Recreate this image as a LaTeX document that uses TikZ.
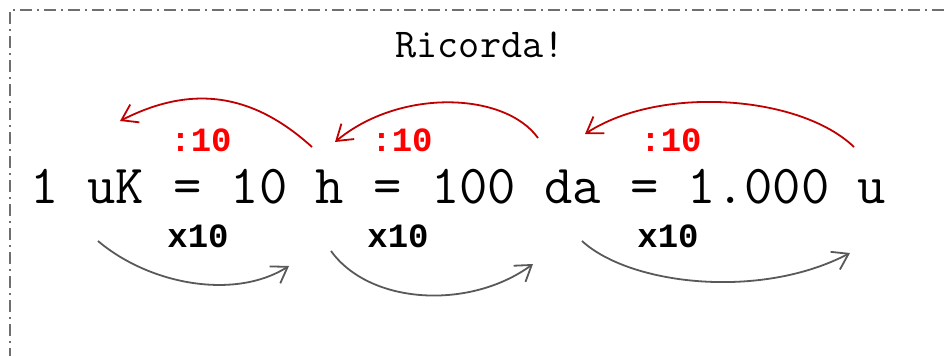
\documentclass[tikz,border=0pt]{standalone}
\usepackage{fontspec}
\setmainfont{Liberation Mono}
\usetikzlibrary{arrows.meta, positioning}
\definecolor{arrowred}{HTML}{C00000}
\definecolor{labelred}{HTML}{FF0000}
\definecolor{arrowgray}{HTML}{595959}
\definecolor{framegray}{HTML}{6E6E6E}
\tikzset{
  term/.style={inner sep=0pt, font=\fontsize{55}{57}\selectfont\ttfamily},
  divlabel/.style={inner sep=0pt, anchor=base, text=labelred, font=\fontsize{34}{36}\selectfont\bfseries},
  multlabel/.style={inner sep=0pt, anchor=base, text=black, font=\fontsize{34}{36}\selectfont\bfseries},
  divarrow/.style={draw=arrowred, line width=1.8pt, -{Straight Barb[length=15pt,width=20pt,line width=1.8pt]}},
  multarrow/.style={draw=arrowgray, line width=1.8pt, -{Straight Barb[length=15pt,width=20pt,line width=1.8pt]}},
  frame/.style={draw=framegray, line width=1.4pt, dash pattern=on 12pt off 5pt on 2pt off 5pt}
}

\begin{document}
\begin{tikzpicture}[x=1pt, y=-1pt]
  \useasboundingbox (0,0) rectangle (944,356);
  \coordinate (frameTR) at (944,10);
  \coordinate (frameTL) at (10,10);
  \coordinate (frameBL) at (10,356);
  \draw[frame] (frameTR) -- (frameTL) -- (frameBL);

  \node[inner sep=0pt, anchor=base, font=\fontsize{41}{43}\selectfont\ttfamily] (title) at (480,57) {Ricorda!};

  % equivalenza
  \node[term, anchor=base west] (uk) at (30.4,203) {1 uK};
  \node[term, base right=28.9pt of uk] (eqa) {=};
  \node[term, base right=28.9pt of eqa] (h) {10 h};
  \node[term, base right=28.9pt of h] (eqb) {=};
  \node[term, base right=28.9pt of eqb] (da) {100 da};
  \node[term, base right=28.9pt of da] (eqc) {=};
  \node[term, base right=28.9pt of eqc] (u) {1.000 u};

  \node[divlabel] (diva) at (201,151) {:10};
  \node[divlabel] (divb) at (402,151) {:10};
  \node[divlabel] (divc) at (671,151) {:10};
  \node[multlabel] (mula) at (198,247) {x10};
  \node[multlabel] (mulb) at (398,247) {x10};
  \node[multlabel] (mulc) at (668,247) {x10};

  \coordinate (ukTop) at (120,121);
  \coordinate (hTop) at (335,142);
  \coordinate (hTopR) at (312,147);
  \coordinate (daTop) at (585,134);
  \coordinate (daTopR) at (538,138);
  \coordinate (uTop) at (854,147);
  \coordinate (ukBot) at (98,241);
  \coordinate (hBot) at (289,266);
  \coordinate (hBotR) at (331,251);
  \coordinate (daBot) at (533,264);
  \coordinate (daBotR) at (582,241);
  \coordinate (uBot) at (850,253);

  \draw[divarrow] (hTopR) .. controls (260,100) and (200,80) .. (ukTop);
  \draw[divarrow] (daTopR) .. controls (505,92) and (400,88) .. (hTop);
  \draw[divarrow] (uTop) .. controls (800,95) and (660,85) .. (daTop);

  \draw[multarrow] (ukBot) .. controls (150,285) and (235,300) .. (hBot);
  \draw[multarrow] (hBotR) .. controls (370,305) and (470,310) .. (daBot);
  \draw[multarrow] (daBotR) .. controls (630,285) and (760,300) .. (uBot);
\end{tikzpicture}
\end{document}
